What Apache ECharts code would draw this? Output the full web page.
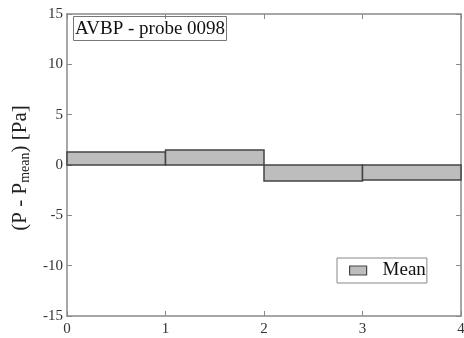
<!DOCTYPE html>
<html>
<head>
<meta charset="utf-8">
<script src="https://cdn.jsdelivr.net/npm/echarts@6/dist/echarts.min.js"></script>
<style>html,body{margin:0;padding:0;background:#fff}#c{width:464px;height:338px}</style>
</head>
<body>
<div id="c"></div>
<script>
// Data
const binStarts = [0, 1, 2, 3];
const binEnds = [1, 2, 3, 4];
const meanValues = [1.3, 1.5, -1.6, -1.5];
const xTicks = [0, 1, 2, 3, 4];
const yTicks = [-15, -10, -5, 0, 5, 10, 15];
const seriesName = 'Mean';
const titleText = 'AVBP - probe 0098';

const font = '"Liberation Serif", "DejaVu Serif", serif';
const axisColor = '#8a8a8a';
const labelColor = '#333';

const chart = echarts.init(document.getElementById('c'));
const data = binStarts.map((s, i) => [s, binEnds[i], meanValues[i]]);

const xBase = {
  type: 'value', min: xTicks[0], max: xTicks[xTicks.length - 1], interval: 1,
  axisLine: { show: true, onZero: false, lineStyle: { color: axisColor, width: 1.5 } },
  axisTick: { show: true, inside: true, length: 5, lineStyle: { color: axisColor } },
  splitLine: { show: false }
};
const yBase = {
  type: 'value', min: yTicks[0], max: yTicks[yTicks.length - 1], interval: 5,
  axisLine: { show: true, onZero: false, lineStyle: { color: axisColor, width: 1.5 } },
  axisTick: { show: true, inside: true, length: 5, lineStyle: { color: axisColor } },
  splitLine: { show: false }
};

chart.setOption({
  animation: false,
  backgroundColor: '#fff',
  grid: { left: 67, right: 3, top: 14, bottom: 22, outerBoundsMode: 'none', containLabel: false },
  title: {
    text: titleText, left: 73, top: 16,
    borderColor: '#777', borderWidth: 1, padding: [3, 2, 2, 2],
    textStyle: { fontFamily: font, fontSize: 19, fontWeight: 'normal', color: '#111', lineHeight: 20 }
  },
  legend: {
    data: [seriesName], left: 337, top: 258, orient: 'vertical',
    borderColor: '#888', borderWidth: 1, padding: [3, 1, 3, 12],
    icon: 'rect', itemWidth: 17, itemHeight: 9,
    itemStyle: { color: '#bdbdbd', borderColor: '#444', borderWidth: 1.2 },
    textStyle: { fontFamily: font, fontSize: 19, color: '#111', lineHeight: 19, padding: [0, 0, 0, 11] }
  },
  xAxis: [
    Object.assign({}, xBase, {
      position: 'bottom',
      axisLabel: { show: true, fontFamily: font, fontSize: 15, color: labelColor, margin: 6 }
    }),
    Object.assign({}, xBase, { position: 'top', axisLabel: { show: false } })
  ],
  yAxis: [
    Object.assign({}, yBase, {
      position: 'left',
      axisLabel: { show: true, fontFamily: font, fontSize: 15, color: labelColor, margin: 4 },
      name: '{m|(P - P}{s|mean}{m|) [Pa]}',
      nameLocation: 'middle', nameGap: 29, nameRotate: 90,
      nameTextStyle: {
        padding: [0, 6, 0, 0],
        rich: {
          m: { fontFamily: font, fontSize: 21, color: '#222' },
          s: { fontFamily: font, fontSize: 14, color: '#222', verticalAlign: 'bottom', padding: [10, 0, 0, 0] }
        }
      }
    }),
    Object.assign({}, yBase, { position: 'right', axisLabel: { show: false } })
  ],
  series: [{
    name: seriesName,
    type: 'custom',
    xAxisIndex: 0, yAxisIndex: 0,
    encode: { x: [0, 1], y: 2 },
    itemStyle: { color: '#bdbdbd', borderColor: '#444', borderWidth: 1.5 },
    renderItem: function (params, api) {
      const p0 = api.coord([api.value(0), 0]);
      const p1 = api.coord([api.value(1), api.value(2)]);
      return {
        type: 'rect',
        shape: { x: p0[0], y: Math.min(p0[1], p1[1]), width: p1[0] - p0[0], height: Math.abs(p1[1] - p0[1]) },
        style: api.style({ fill: '#bdbdbd', stroke: '#444', lineWidth: 1.5 })
      };
    },
    data: data
  }]
});
</script>
</body>
</html>
